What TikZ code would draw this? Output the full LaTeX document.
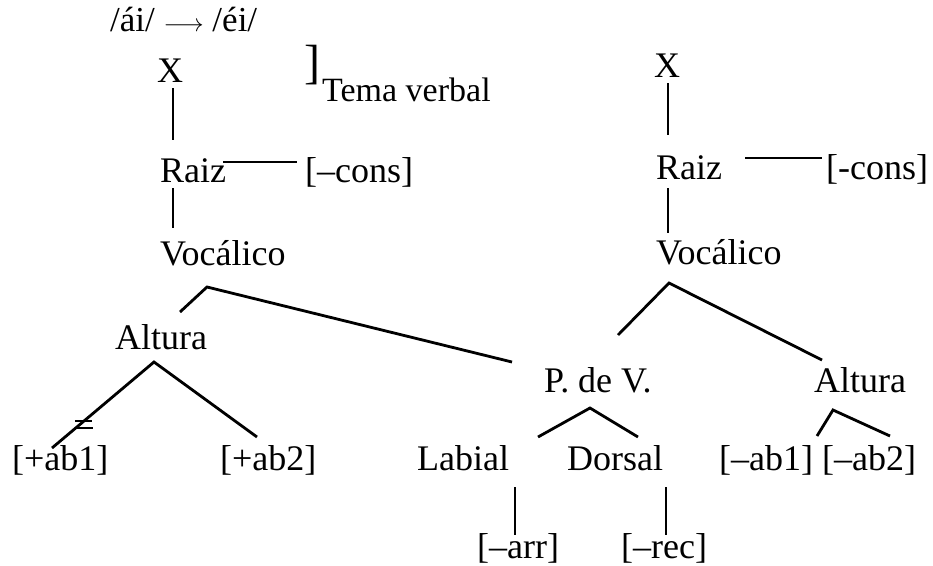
\documentclass[tikz,border=0pt]{standalone}
\usepackage{fontspec}
\setmainfont{Liberation Serif}
\begin{document}
\begin{tikzpicture}[x=1pt,y=-1pt,
  lab/.style={inner sep=0pt, anchor=base west, font=\fontsize{36}{40}\selectfont},
  ln/.style={line width=2.8pt, line cap=butt, line join=miter}]
\useasboundingbox (0,0) rectangle (933,565);
% ---------- labels ----------
\node[lab, font=\fontsize{35}{38}\selectfont] (title) at (110,31) {/ái/ \(\longrightarrow\) /éi/};
\node[lab, anchor=base] (xL) at (170,82) {X};
\node[inner sep=0pt, anchor=base west, font=\fontsize{48}{52}\selectfont] (brk) at (304,78) {]};
\node[lab, font=\fontsize{34}{38}\selectfont] (tema) at (322,101) {Tema verbal};
\node[lab] (raizL) at (160,182) {Raiz};
\node[lab] (consL) at (305,182) {[–cons]};
\node[lab] (vocL) at (160,265) {Vocálico};
\node[lab] (altL) at (115,349) {Altura};
\node[lab] (abpA) at (12,470) {[+ab1]};
\node[lab] (abpB) at (220,470) {[+ab2]};
\node[lab, anchor=base] (xR) at (667,77) {X};
\node[lab] (raizR) at (656,179) {Raiz};
\node[lab] (consR) at (826,179) {[-cons]};
\node[lab] (vocR) at (656,264) {Vocálico};
\node[lab] (pdv) at (544,392) {P. de V.};
\node[lab] (altR) at (814,392) {Altura};
\node[lab] (labial) at (417,470) {Labial};
\node[lab] (dorsal) at (567,470) {Dorsal};
\node[lab] (abmA) at (719,470) {[–ab1]};
\node[lab] (abmB) at (822,470) {[–ab2]};
\node[lab] (arr) at (477,558) {[–arr]};
\node[lab] (rec) at (621,558) {[–rec]};
% ---------- connector points ----------
\coordinate (xLb) at (173,88);   \coordinate (raizLt) at (173,140);
\coordinate (raizLr) at (223,162); \coordinate (consLl) at (297,162);
\coordinate (raizLb) at (173,188); \coordinate (vocLt) at (173,228);
\coordinate (vocLp) at (207,287); \coordinate (altLt) at (180,312);
\coordinate (pdvT) at (512,362);
\coordinate (altLp) at (154,362); \coordinate (abpAt) at (52,448); \coordinate (abpBt) at (257,437);
\coordinate (dlA) at (75,421); \coordinate (dlB) at (92,421);
\coordinate (dlC) at (75,428); \coordinate (dlD) at (93,428);
\coordinate (xRb) at (668,83);   \coordinate (raizRt) at (668,135);
\coordinate (raizRr) at (745,158); \coordinate (consRl) at (822,158);
\coordinate (raizRb) at (668,188); \coordinate (vocRt) at (668,233);
\coordinate (vocRp) at (669,283); \coordinate (pdvTR) at (618,335); \coordinate (altRt) at (822,360);
\coordinate (pdvP) at (590,408); \coordinate (labialT) at (538,437); \coordinate (dorsalT) at (638,437);
\coordinate (altRp) at (833,410); \coordinate (abmAt) at (817,436); \coordinate (abmBt) at (890,436);
\coordinate (labialB) at (515,487); \coordinate (arrT) at (515,535);
\coordinate (dorsalB) at (666,487); \coordinate (recT) at (666,535);
% ---------- connectors ----------
\draw[ln] (xLb) -- (raizLt);
\draw[ln] (raizLr) -- (consLl);
\draw[ln] (raizLb) -- (vocLt);
\draw[ln] (altLt) -- (vocLp) -- (pdvT);
\draw[ln] (abpAt) -- (altLp) -- (abpBt);
\draw[line width=1.8pt] (dlA) -- (dlB);
\draw[line width=1.8pt] (dlC) -- (dlD);
\draw[ln] (xRb) -- (raizRt);
\draw[ln] (raizRr) -- (consRl);
\draw[ln] (raizRb) -- (vocRt);
\draw[ln] (pdvTR) -- (vocRp) -- (altRt);
\draw[ln] (labialT) -- (pdvP) -- (dorsalT);
\draw[ln] (abmAt) -- (altRp) -- (abmBt);
\draw[ln] (labialB) -- (arrT);
\draw[ln] (dorsalB) -- (recT);
\end{tikzpicture}
\end{document}
